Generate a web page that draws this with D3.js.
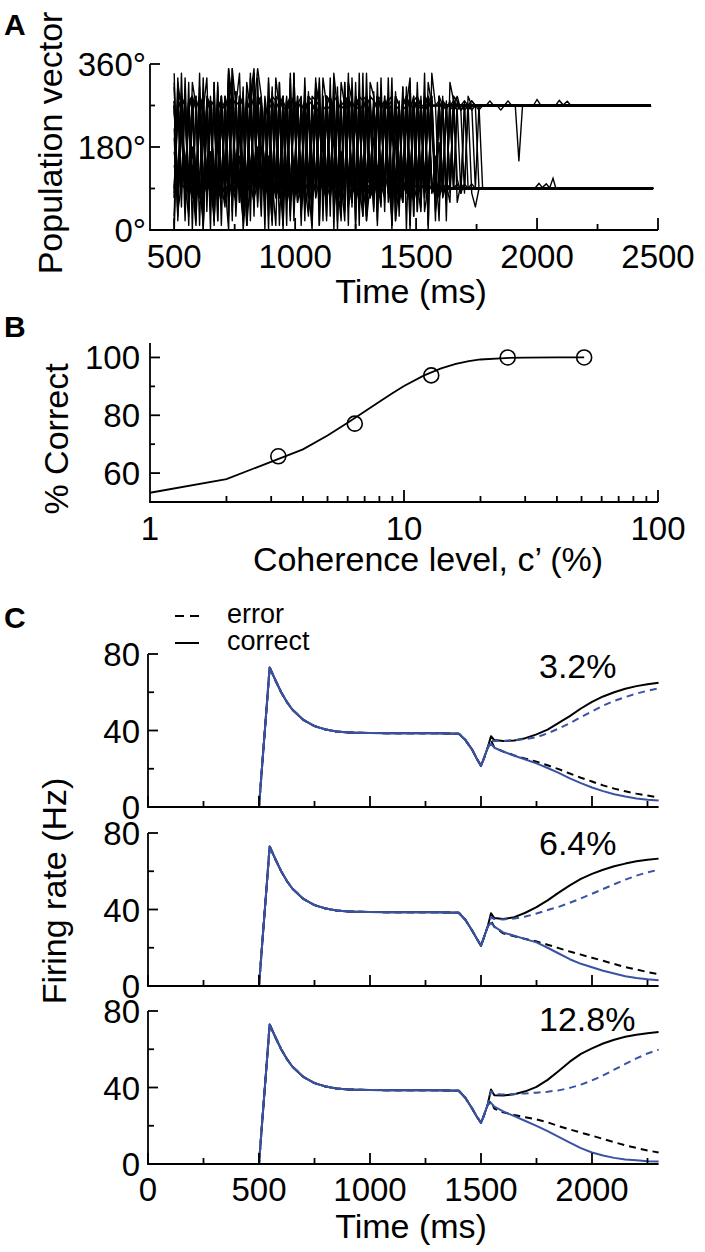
<!DOCTYPE html>
<html><head><meta charset="utf-8">
<script src="https://cdn.jsdelivr.net/npm/d3@7"></script>
<style>body{margin:0;background:#fff} svg text{font-family:"Liberation Sans",Arial,Helvetica,sans-serif;fill:#000}</style>
</head><body>
<svg id="c" width="705" height="1252"></svg>
<script>
// ---------- Panel A data ----------
const aTimeTicks = [500, 750, 1000, 1250, 1500, 1750, 2000, 2250, 2500];
const aTimeLabels = [500, 1000, 1500, 2000, 2500];
const aAngleTicks = [0, 90, 180, 270, 360];
const aAngleLabels = [0, 180, 360];
const aStart = 500, aStep = 15; // ms, first sample and sample spacing of the trace strings
// each char = angle/10 in base 36 ('9' = 90°, 'r' = 270°)
const traces = [
  "0wq9rb8sp7ta9qr6cu8r5sbq9tm7r8aqs6r9tc8pr7bsq9wr5ar8qt7c9rs8mq6rb9sqrr",
  "k3r9sa7qt8b2rs9q7at8rcq5s9ra8tq9u6br8sa9q7rt4c9sr8aq7tr9b5sqr8a9tq7s9a9",
  "r8t9qa6sr9bt7qs8ra9ct6rq8s9ar7tb8qs5r9at8qr7cs9rq8a6ts9rb8qt7a9sr8q9atrr",
  "9sq2rt8a7sr9q1tb8rs6a9qzt7r8b9sq3ra8t9qs7xr8a9bt6sq9r2a8tqs9r7b8aqt9s8a99",
  "w7r9as8q0tr9b7sqa8rt6y9rs8qb7at9r4s8qr9ax7tsr8b9q6tr8a9sq7rb8t9qr6as9rtrrr",
  "e9tr8a1sq9r7bt8zs9ra6qt8r9b2sq7ar9t8sqa9r6tbq8rs9a7t3rq8s9ba7tr8q9sa8r9q7a999",
  "r6s9qt8a2rs9b7tq8ry9as6rt8qb9s7ra8t1qs9r8bat7sq9r8w6ta9rs8qb7tr9a8sq6r9tb8sr9qrrr",
  "8ts9ra7q3sr8bt9qa6rs8tz9ra7sq8b9rt6as9qr8ta7s2rq9b8ts7ar9q8st6ar9bq8s7ta9r8qs9a8a9",
  "s9r8aqt7b9sr6qa8tr9s1bq7ra8ts9qr6ba8x9tsr7aq8s9rb6tq8ar9s7tb8qr9a6st8rq9b7as8rtqrrr",
  "a8rs9tq7b8ra9s6qt8r0as9bq7tr8a9sq6rt8b9as7qr8t9ay6sr8qb9ta7rs8q9tb6ar9sq8t7a9rq8s9a9",
  "q9r8st7a9rb6sq8tr9a2sq7rb8ta9sr6qt8a9rs7bq8t9ra6ws8qr9tb7as8r9q6ta8sr9bq7t8ar9sq8tr9r",
  "7sr9aq8tb9rs6aq8t9r3bs7qa8rt9s6bq8ra9ts7q8rb9as6tq8r9ab7st8qr9a6sb8tr9qa7s8r9tb8qrrr9",
  "r8s9qa7tr9b6sq8ra9t5sq7rb8a9ts6qr8b9at7sr8q9ab6ts8rq9a7bt8sr9q6atrsrrqsrrsqrrsrqrrsrr999",
  "9r8sa7qt9br6sa8qr9t4aq7sr8b9ta6rs8q9bt7ar8s9qa6tr8b9sq7at8r9s6qb8ra9t7sq8r9a6tsqrrsrqrrsrrqrsrrfr",
  "v5ya3wr1qx8s2ta0zr6u4qy9s3wb1rt7x2qs5a0vr9t3yq6s1xa8r2wt4q9s0ua7rx3s5q1yr8t2ws6a9qrr",
  "3x9u1s7y0r5w2q8z4t6v1s3x7r0u9w5q2y8s4t1v6r3x0q7w9s2u5y8r1t4x6q3v0s8w9a99",
  "y2s6w0t8x4r1v7q3z5s9u2w6r0x4t8q1y5s3v7r9w2t6x0q4u8s1y3r5w7t9x2q6v0s4r8wrr",
  "1t5x9s3v7r0w4q8y2u6s1x5t9r3v7w0q4y8s2u6x1t5r9v3w7q0y4s8u2x6t1r5v9w3q7y0s4a8a99",
  "h9mr7e4sk8q2jt6ar9g5wq7i3sc8r1lt9f6qs4ar8k2tq7h9s5ra3mt8e6qr1js9b7ta4rq8g2s6r9qrsrqrr",
  "m6ta8i2rq9e5sb7xr3kq8a6ts9g1r7qc5u8ra3ls9q6ti8b2rs7aq9f4tr8d6sa9q1rb7ts8aj9a99",
  "7rk9sa4tq8h2rs6bx9q3ra7ti5sq8c1rt9a6sq4wr8e7ta2qs9r5bt8kq6ra3s9tr7q4sa8r2trr",
  "s4a9rt7b1qs8wa5rt9c3sq7ar8t2xq9a6sr4bt8q1ra9st5cq7r8a3ts9bq6r2at8sq9r4at7bs8qrrrqr8599"
];
const traceTargets = [270, 90, 270, 90, 270, 90, 270, 90, 270, 90, 270, 90, 90, 270, 270, 90, 270, 90, 270, 90, 270, 90];
const traceOffsets = [-1, 1.5, 0.5, -1.5, 1, 0, 1.5, -0.5, -1.5, 1, 0.5, -1, 1, 0, -0.5, 0.5, 1, -1, 0, 1.5, -1, 0];
const traceEnds = [2470, 2480, 2465, 2478, 2470, 2480, 2468, 2475, 2472, 2480, 2470, 2478, 2476, 2470, 2468, 2482, 2471, 2479, 2466, 2477, 2469, 2481];
const wobble270 = [[1985, 270], [2000, 283], [2015, 271], [2075, 269], [2092, 281], [2108, 271], [2125, 279], [2140, 270]];
const wobble90 = [[1990, 90], [2008, 101], [2022, 92], [2038, 100], [2052, 91], [2066, 112], [2078, 90]];

// ---------- Panel B data ----------
const bTicksMajor = [10, 100];
const bTicksMinor = [2, 3, 4, 5, 6, 7, 8, 9, 20, 30, 40, 50, 60, 70, 80, 90];
const bTickLabels = [1, 10, 100];
const bYTicks = [60, 70, 80, 90, 100];
const bYLabels = [60, 80, 100];
const coherence = [3.2, 6.4, 12.8, 25.6, 51.2];
const pctCorrect = [65.8, 77.1, 93.8, 100, 100];
const fitCoh = [1, 2, 4, 5, 6, 7, 8, 9, 10, 12, 14, 16, 18, 20, 25, 30, 40, 51.2];
const fitPct = [53.2, 57.9, 68.2, 73.0, 77.4, 81.3, 84.7, 87.6, 90.1, 93.8, 96.2, 97.8, 98.7, 99.3, 99.8, 99.97, 100, 100];

// ---------- Panel C data ----------
const cTimeTicks = [0, 250, 500, 750, 1000, 1250, 1500, 1750, 2000, 2250];
const cTimeLabels = [0, 500, 1000, 1500, 2000];
const cRateTicks = [0, 20, 40, 60, 80];
const cRateLabels = [0, 40, 80];
const cohLabels = ["3.2%", "6.4%", "12.8%"];
const tPre = [0, 500, 548, 575, 600, 625, 650, 700, 750, 800, 850, 900, 1000, 1100, 1200, 1300, 1400, 1430, 1460, 1480, 1500, 1515, 1530];
const preC1 = [0, 0, 73, 66, 60, 55, 51, 45.5, 42.3, 40.5, 39.5, 39, 38.7, 38.5, 38.5, 38.5, 38.3, 35, 30, 25.5, 21.5, 26, 31];
const preC2 = [0, 0, 73, 66, 60, 55, 51, 45.5, 42.3, 40.5, 39.5, 39, 38.7, 38.5, 38.5, 38.5, 38.3, 34.5, 29, 25, 21, 26, 31];
const preC3 = [0, 0, 73, 66, 60, 55, 51, 45.5, 42.3, 40.5, 39.5, 39, 38.7, 38.5, 38.5, 38.5, 38.3, 34.5, 29, 25, 21.5, 26, 31];
const tPost = [1545, 1560, 1600, 1650, 1700, 1750, 1800, 1850, 1900, 1950, 2000, 2050, 2100, 2150, 2200, 2250, 2300];
// C1 (3.2%)
const c1BlackSolid = [37, 35, 34.5, 34.8, 36, 38, 40.5, 44, 47.5, 51.5, 55, 57.8, 60, 61.8, 63.2, 64.2, 65];
const c1BlueDashed = [35, 34.5, 34.5, 35, 35.5, 36.5, 38.5, 41, 43.8, 47, 50, 53, 55.5, 57.5, 59.3, 60.8, 62];
const c1BlackDashed = [35, 31, 29, 27, 25.3, 23.7, 21.8, 19.8, 17.5, 15.3, 13.3, 11.3, 9.6, 8.2, 7, 6, 5];
const c1BlueSolid = [33, 31, 29, 26.8, 24.8, 22.8, 20.4, 17.8, 15, 12.5, 10.2, 8.3, 6.7, 5.5, 4.5, 3.8, 3.4];
// C2 (6.4%)
const c2BlackSolid = [38, 35.5, 35, 36, 38.3, 41.2, 44.8, 48.8, 52.6, 56, 58.6, 60.8, 62.6, 64, 65.2, 66, 66.6];
const c2BlueDashed = [36, 35, 34.8, 35.3, 36.3, 37.9, 39.7, 41.4, 43.5, 45.8, 48.2, 50.7, 53.2, 55.6, 57.7, 59.4, 60.8];
const c2BlackDashed = [34, 31, 27.5, 26, 24.6, 23.3, 21.6, 19.8, 18, 16.4, 14.8, 13.2, 11.5, 9.9, 8.6, 7.3, 6.2];
const c2BlueSolid = [33, 31, 28, 26.3, 24.5, 22.8, 20, 17, 14, 11.6, 9.8, 8, 6.5, 5.1, 4.2, 3.5, 3];
// C3 (12.8%)
const c3BlackSolid = [39, 36, 35.8, 36.5, 38, 40.3, 44, 48.6, 53.5, 57.6, 60.5, 63, 65, 66.5, 67.6, 68.4, 69];
const c3BlueDashed = [38, 36.5, 36.4, 36.6, 36.9, 37.3, 37.8, 38.5, 39.8, 41.5, 43.7, 46.3, 49.3, 52.3, 55.2, 57.8, 59.8];
const c3BlackDashed = [33, 29, 27, 25.6, 24.4, 23.3, 21.8, 19.8, 18.1, 16.4, 14.8, 13.1, 11.4, 9.8, 8.4, 7.1, 6];
const c3BlueSolid = [32, 30, 27.5, 25, 22.5, 19.9, 17.2, 14.2, 11.2, 8.3, 6, 4.4, 3.2, 2.4, 1.9, 1.5, 1.3];

// ---------- drawing ----------
const svg = d3.select("#c");
const BLUE = "#3a52a4";
const TICKFS = 33, TITLEFS = 34, PANELFS = 30;

function txt(x, y, s, size, anchor, extra) {
  const t = svg.append("text").attr("x", x).attr("y", y).attr("font-size", size)
    .attr("text-anchor", anchor || "start").text(s);
  if (extra) extra(t);
  return t;
}
function vtitle(x, y, s) {
  svg.append("text").attr("transform", `translate(${x},${y}) rotate(-90)`)
    .attr("font-size", TITLEFS).attr("text-anchor", "middle").text(s);
}
function seg(x1, y1, x2, y2, w) {
  svg.append("line").attr("x1", x1).attr("y1", y1).attr("x2", x2).attr("y2", y2)
    .attr("stroke", "#000").attr("stroke-width", w || 1.8);
}
const bold = t => t.attr("font-weight", "bold");

// ===== Panel A =====
const xA = d3.scaleLinear().domain([400, 2500]).range([150, 658]);
const yA = d3.scaleLinear().domain([0, 360]).range([230, 64]);
const lineA = d3.line().x(d => xA(d[0])).y(d => yA(d[1]));
const gA = svg.append("g");
traces.forEach((s, i) => {
  const pts = Array.from(s).map((c, j) => [aStart + aStep * j, parseInt(c, 36) * 10]);
  const last = pts[pts.length - 1][0];
  const v = traceTargets[i] + traceOffsets[i];
  pts.push([last + aStep, v], [traceEnds[i], v]);
  gA.append("path").attr("d", lineA(pts)).attr("fill", "none").attr("stroke", "#000")
    .attr("stroke-width", 1.4).attr("stroke-linejoin", "round");
});
[wobble270, wobble90].forEach(w => gA.append("path").attr("d", lineA(w)).attr("fill", "none")
  .attr("stroke", "#000").attr("stroke-width", 1.4));

svg.append("path").attr("d", `M${xA(400)},${yA(360)}V${yA(0)}H${xA(2500)}`)
  .attr("fill", "none").attr("stroke", "#000").attr("stroke-width", 1.8);
aAngleTicks.forEach(v => {
  const L = aAngleLabels.includes(v) ? 10 : 5;
  seg(xA(400), yA(v), xA(400) + L, yA(v));
});
aAngleLabels.forEach(v => txt(146, yA(v) + 12, v + "°", TICKFS, "end"));
aTimeTicks.forEach(t => {
  const L = aTimeLabels.includes(t) ? 12 : 6;
  seg(xA(t), yA(0), xA(t), yA(0) - L);
});
aTimeLabels.forEach(t => txt(xA(t), 268, t, TICKFS, "middle"));
txt(411, 303, "Time (ms)", TITLEFS, "middle");
vtitle(62, 143, "Population vector");
txt(4, 35, "A", PANELFS, "start", bold);

// ===== Panel B =====
const xB = d3.scaleLog().domain([1, 100]).range([150, 658]);
const yB = d3.scaleLinear().domain([50, 105]).range([502, 343]);
const lineB = d3.line().x((d, i) => xB(fitCoh[i])).y((d, i) => yB(fitPct[i]));
svg.append("path").attr("d", lineB(fitCoh)).attr("fill", "none").attr("stroke", "#000").attr("stroke-width", 1.8);
coherence.forEach((c, i) => svg.append("circle").attr("cx", xB(c)).attr("cy", yB(pctCorrect[i])).attr("r", 7.5)
  .attr("fill", "none").attr("stroke", "#000").attr("stroke-width", 1.6));
svg.append("path").attr("d", `M${xB(1)},${yB(105)}V${yB(50)}H${xB(100)}`)
  .attr("fill", "none").attr("stroke", "#000").attr("stroke-width", 1.8);
bTicksMajor.forEach(c => seg(xB(c), yB(50), xB(c), yB(50) - 12));
bTicksMinor.forEach(c => seg(xB(c), yB(50), xB(c), yB(50) - 6));
bYTicks.forEach(v => seg(xB(1), yB(v), xB(1) + (bYLabels.includes(v) ? 10 : 5), yB(v)));
bYLabels.forEach(v => txt(140, yB(v) + 12, v, TICKFS, "end"));
bTickLabels.forEach(c => txt(xB(c), 540, c, TICKFS, "middle"));
txt(428, 571, "Coherence level, c\u2019 (%)", TITLEFS, "middle");
vtitle(68, 439, "% Correct");
txt(4, 337, "B", PANELFS, "start", bold);

// ===== Panel C =====
const xC = d3.scaleLinear().domain([0, 2300]).range([148, 658.6]);
const subplots = [
  { y0: 807, y80: 654, pre: preC1, bs: c1BlackSolid, bd: c1BlackDashed, ud: c1BlueDashed, us: c1BlueSolid, lab: cohLabels[0], ly: 678 },
  { y0: 986, y80: 833, pre: preC2, bs: c2BlackSolid, bd: c2BlackDashed, ud: c2BlueDashed, us: c2BlueSolid, lab: cohLabels[1], ly: 855 },
  { y0: 1164, y80: 1011, pre: preC3, bs: c3BlackSolid, bd: c3BlackDashed, ud: c3BlueDashed, us: c3BlueSolid, lab: cohLabels[2], ly: 1031 }
];
subplots.forEach((sp, k) => {
  const yC = d3.scaleLinear().domain([0, 80]).range([sp.y0, sp.y80]);
  const ln = d3.line().x(d => xC(d[0])).y(d => yC(d[1]));
  const full = post => tPre.map((t, i) => [t, sp.pre[i]]).concat(tPost.map((t, i) => [t, post[i]]));
  const curves = [
    { v: sp.bs, c: "#000", dash: null },
    { v: sp.bd, c: "#000", dash: "7,5" },
    { v: sp.ud, c: BLUE, dash: "7,5" },
    { v: sp.us, c: BLUE, dash: null }
  ];
  curves.forEach(cv => {
    const p = svg.append("path").attr("d", ln(full(cv.v))).attr("fill", "none")
      .attr("stroke", cv.c).attr("stroke-width", 2).attr("stroke-linejoin", "round");
    if (cv.dash) p.attr("stroke-dasharray", cv.dash);
  });
  svg.append("path").attr("d", `M${xC(0)},${yC(80)}V${yC(0)}H${xC(2300)}`)
    .attr("fill", "none").attr("stroke", "#000").attr("stroke-width", 1.8);
  cRateTicks.forEach(v => seg(xC(0), yC(v), xC(0) + (cRateLabels.includes(v) ? 10 : 6), yC(v)));
  cRateLabels.forEach(v => txt(140, yC(v) + 12, v, TICKFS, "end"));
  cTimeTicks.forEach(t => seg(xC(t), yC(0), xC(t), yC(0) - (cTimeLabels.includes(t) ? 11 : 6)));
  txt(539, sp.ly, sp.lab, TITLEFS, "start");
  if (k === 2) {
    cTimeLabels.forEach(t => txt(xC(t), 1201, t, TICKFS, "middle"));
    txt(411, 1238, "Time (ms)", TITLEFS, "middle");
  }
});
vtitle(66, 891, "Firing rate (Hz)");
txt(4, 628, "C", PANELFS, "start", bold);
// legend
svg.append("line").attr("x1", 175).attr("x2", 199).attr("y1", 616).attr("y2", 616)
  .attr("stroke", "#000").attr("stroke-width", 2).attr("stroke-dasharray", "9,6");
seg(175, 643, 199, 643, 2);
txt(227, 623, "error", 27, "start");
txt(227, 650, "correct", 27, "start");
</script></body></html>
